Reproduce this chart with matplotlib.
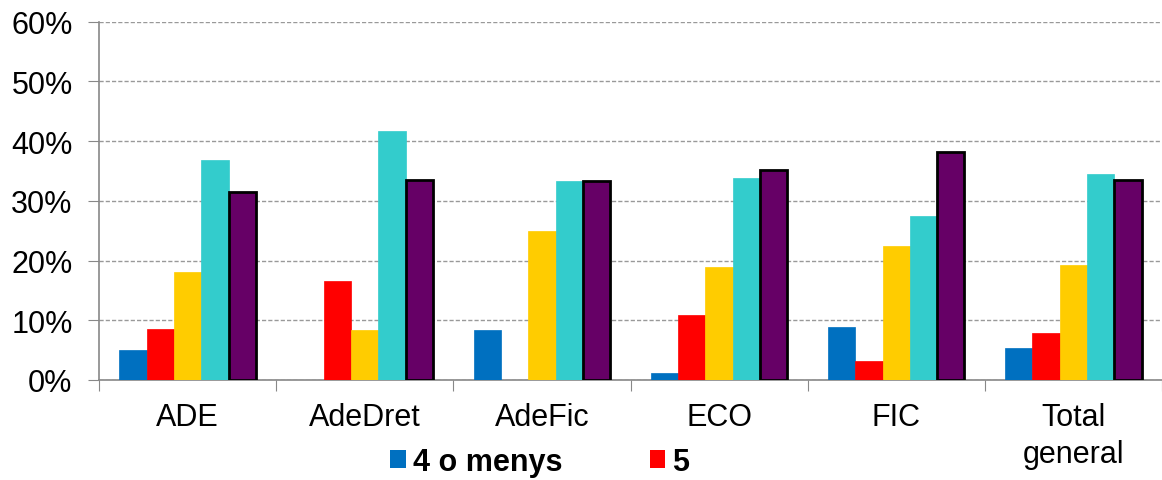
import matplotlib
matplotlib.use("Agg")
import matplotlib.pyplot as plt
from matplotlib.patches import Patch
from matplotlib.ticker import FuncFormatter, FixedLocator
import numpy as np

plt.rcParams['font.family'] = ['Liberation Sans', 'DejaVu Sans']

categories = ["ADE", "AdeDret", "AdeFic", "ECO", "FIC", "Total\ngeneral"]
series_names = ["4 o menys", "5", "", "", ""]
s1 = [5.0, 0.0, 8.3, 1.2, 8.8, 5.3]
s2 = [8.6, 16.5, 0.0, 10.8, 3.1, 7.8]
s3 = [18.0, 8.3, 25.0, 18.9, 22.4, 19.3]
s4 = [36.8, 41.6, 33.3, 33.8, 27.4, 34.4]
s5 = [31.4, 33.4, 33.3, 35.2, 38.1, 33.4]
yticks = [0, 10, 20, 30, 40, 50, 60]

colors = ["#0070C0", "#FF0000", "#FFCC00", "#33CCCC", "#660066"]
series = [s1, s2, s3, s4, s5]

fig = plt.figure(figsize=(11.62, 4.81), dpi=100)
ax = fig.add_axes([99/1162, 1 - 381/481, 1 - 99/1162, (381 - 22.5)/481])

x = np.arange(len(categories))
w = 0.154
for i, (vals, c) in enumerate(zip(series, colors)):
    off = (i - 2) * w
    if i == 4:
        ax.bar(x + off, vals, w, color=c, edgecolor="black", linewidth=2, zorder=3)
    else:
        ax.bar(x + off, vals, w, color=c, edgecolor=c, linewidth=0.5, zorder=3)

ax.set_xlim(-0.5, len(categories) - 0.5)
ax.set_ylim(0, 60)
ax.set_yticks(yticks)
ax.yaxis.set_major_formatter(FuncFormatter(lambda v, p: f"{int(v)}%"))
ax.yaxis.grid(True, linestyle=(0, (3, 1.5)), color="#999999", linewidth=1, zorder=0)
ax.set_axisbelow(True)

ax.xaxis.set_major_locator(FixedLocator(np.arange(-0.5, len(categories), 1.0)))
ax.xaxis.set_minor_locator(FixedLocator(x))
ax.set_xticklabels([], minor=False)
ax.set_xticklabels(categories, minor=True, linespacing=1.3)
ax.tick_params(axis="x", which="major", length=8, color="#888888", direction="out")
ax.tick_params(axis="x", which="minor", length=0, pad=16, labelsize=22)
ax.tick_params(axis="y", length=8, color="#888888", labelsize=22, pad=11)

for s in ["top", "right"]:
    ax.spines[s].set_visible(False)
ax.spines["left"].set_color("#888888")
ax.spines["bottom"].set_color("#888888")
ax.spines["left"].set_linewidth(1.2)
ax.spines["bottom"].set_linewidth(1.2)

handles = [Patch(facecolor=colors[0]), Patch(facecolor=colors[1])]
fig.legend(handles, series_names[:2], loc="center left",
           bbox_to_anchor=(390/1162, 1 - 463/481), ncol=2, frameon=False,
           prop={"weight": "bold", "size": 22}, handlelength=0.52,
           handleheight=0.52, handletextpad=0.23, columnspacing=2.85,
           borderpad=0, borderaxespad=0)

fig.savefig("out.png", dpi=100)
